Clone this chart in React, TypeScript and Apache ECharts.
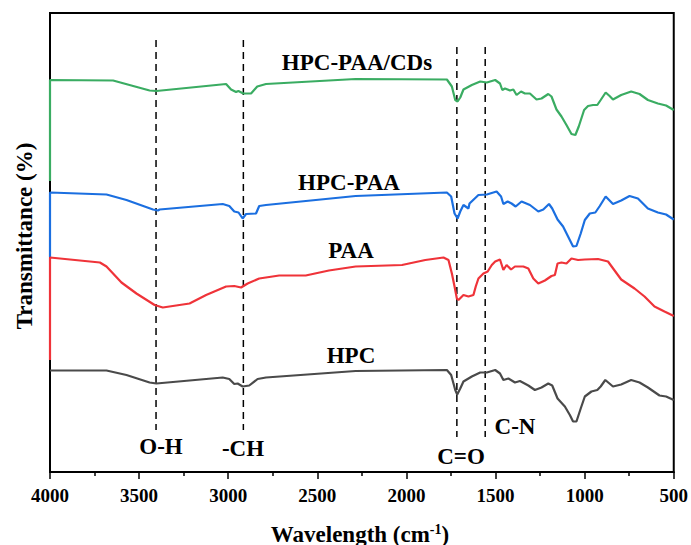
import React, { useEffect, useRef } from "react";
import * as echarts from "echarts";

const xTicks = [4000, 3500, 3000, 2500, 2000, 1500, 1000, 500];

const hpcPaaCds: [number, number][] = [
  [4000, 58.2], [4000, 78.4], [3646, 78.3], [3441, 76.3], [3403, 76.2], [3012, 77.6], [2984, 76.5],
  [2956, 76.0], [2943, 76.2], [2915, 75.7], [2872, 75.7], [2837, 77.1], [2788, 77.6], [2285, 78.6],
  [1773, 78.5], [1745, 77.1], [1726, 74.4], [1713, 74.1], [1698, 74.9], [1680, 76.5], [1633, 77.4],
  [1586, 78.1], [1549, 77.9], [1502, 78.4], [1475, 77.7], [1462, 76.4], [1447, 76.7], [1419, 76.3],
  [1400, 76.5], [1382, 75.4], [1357, 76.1], [1335, 75.7], [1307, 75.7], [1270, 74.5], [1242, 74.7],
  [1204, 75.6], [1186, 75.1], [1158, 72.5], [1130, 71.1], [1102, 69.4], [1074, 67.6], [1052, 67.4],
  [1033, 69.1], [1003, 72.4], [981, 73.2], [953, 73.4], [929, 73.4], [910, 74.4], [882, 75.9],
  [860, 75.2], [841, 74.5], [795, 75.4], [739, 76.1], [692, 75.6], [645, 74.4], [589, 73.7],
  [543, 73.3], [500, 72.4],
];

const hpcPaa: [number, number][] = [
  [4000, 43.0], [4000, 55.9], [3683, 55.5], [3571, 54.4], [3422, 52.5], [3394, 52.3], [3385, 52.5],
  [3031, 53.6], [2994, 53.2], [2966, 52.1], [2942, 51.9], [2919, 50.7], [2900, 51.6], [2844, 51.7],
  [2826, 53.2], [2788, 53.4], [2285, 55.2], [1773, 55.9], [1749, 55.1], [1730, 51.7], [1713, 50.7],
  [1698, 52.1], [1680, 53.4], [1652, 52.7], [1646, 53.7], [1596, 55.4], [1549, 55.5], [1494, 56.1],
  [1469, 55.1], [1456, 53.6], [1432, 54.1], [1410, 53.7], [1387, 53.1], [1354, 54.1], [1307, 53.4],
  [1260, 52.1], [1232, 52.5], [1200, 53.6], [1182, 52.7], [1152, 50.5], [1121, 49.1], [1093, 47.1],
  [1065, 45.1], [1046, 45.2], [1022, 47.7], [999, 50.4], [971, 51.7], [940, 51.9], [915, 53.2],
  [882, 55.1], [841, 53.6], [795, 54.3], [748, 55.2], [701, 54.7], [645, 52.7], [589, 51.9],
  [543, 51.5], [500, 50.5],
];

const paa: [number, number][] = [
  [4000, 22.4], [4000, 42.9], [3720, 41.9], [3683, 41.1], [3599, 37.9], [3515, 35.7], [3413, 33.4],
  [3367, 32.9], [3217, 33.7], [3124, 35.4], [3012, 37.1], [2966, 37.2], [2928, 36.9], [2891, 37.7],
  [2826, 38.7], [2714, 39.3], [2565, 39.3], [2435, 40.3], [2285, 41.1], [2025, 41.4], [1894, 42.4],
  [1792, 42.9], [1764, 42.4], [1745, 39.7], [1730, 37.1], [1717, 34.7], [1708, 34.4], [1680, 35.4],
  [1652, 35.1], [1624, 35.4], [1611, 37.1], [1596, 38.7], [1568, 39.7], [1544, 40.1], [1521, 41.4],
  [1502, 42.1], [1475, 42.5], [1456, 40.4], [1438, 41.4], [1413, 40.5], [1391, 41.1], [1344, 41.1],
  [1316, 40.7], [1288, 38.7], [1260, 37.7], [1223, 38.3], [1186, 39.2], [1167, 39.4], [1152, 41.7],
  [1130, 41.9], [1102, 41.7], [1074, 42.7], [1037, 42.4], [999, 42.5], [925, 42.6], [869, 42.1],
  [795, 38.5], [720, 36.7], [664, 35.1], [608, 33.1], [552, 32.1], [500, 31.2],
];

const hpc: [number, number][] = [
  [4000, 20.3], [3683, 20.3], [3571, 19.4], [3441, 17.9], [3403, 17.7], [3031, 18.9], [2994, 18.6],
  [2966, 17.6], [2947, 17.7], [2919, 17.1], [2882, 17.3], [2835, 18.6], [2788, 18.9], [2285, 20.2],
  [1773, 20.4], [1749, 19.4], [1726, 16.4], [1715, 15.5], [1698, 16.7], [1680, 18.1], [1633, 19.1],
  [1586, 19.9], [1549, 19.9], [1502, 20.4], [1475, 19.7], [1456, 18.4], [1428, 18.7], [1391, 17.9],
  [1363, 18.2], [1316, 17.3], [1279, 16.4], [1242, 16.9], [1204, 17.7], [1182, 17.3], [1152, 14.7],
  [1111, 13.1], [1083, 11.4], [1065, 10.1], [1046, 10.1], [1022, 12.7], [999, 15.1], [962, 16.1],
  [929, 16.4], [910, 17.1], [884, 18.4], [841, 17.1], [795, 17.5], [739, 18.4], [692, 17.9],
  [645, 16.9], [580, 15.3], [543, 15.1], [500, 14.4],
];

const peakNames = ["O-H", "-CH", "C=O", "C-N"];
const peakWavenumbers = [3405, 2915, 1717, 1558];
const peakLineTop = [86.4, 86.4, 85.0, 85.0];
const peakLineBottom = [8.4, 8.4, 7.0, 7.0];

const seriesNames = ["HPC-PAA/CDs", "HPC-PAA", "PAA", "HPC"];
const seriesColors = ["#3aac62", "#1b6fe0", "#ef3339", "#4a4a4a"];

const FONT = "'Liberation Serif', 'Times New Roman', serif";

export default function App() {
  const ref = useRef<HTMLDivElement>(null);
  useEffect(() => {
    if (!ref.current) return;
    const chart = echarts.init(ref.current, undefined, { renderer: "svg" });
    const curves = [hpcPaaCds, hpcPaa, paa, hpc];
    const series: any[] = [];
    peakWavenumbers.forEach((w, i) => {
      series.push({
        type: "line",
        name: peakNames[i],
        data: [
          [w, peakLineTop[i]],
          [w, peakLineBottom[i]],
        ],
        showSymbol: false,
        silent: true,
        z: 1,
        lineStyle: { color: "#000", width: 1.5, type: [7, 5] },
      });
    });
    curves.forEach((d, i) => {
      series.push({
        type: "line",
        name: seriesNames[i],
        data: d,
        showSymbol: false,
        clip: false,
        z: 3,
        lineStyle: { color: seriesColors[i], width: 2.2 },
        itemStyle: { color: seriesColors[i] },
      });
    });
    const labelStyle = (text: string, x: number, y: number) => ({
      type: "text",
      x,
      y,
      style: {
        text,
        font: `bold 23px ${FONT}`,
        fill: "#000",
        align: "center",
        verticalAlign: "middle",
      },
    });
    chart.setOption({
      animation: false,
      grid: {
        left: 50,
        right: 15,
        top: 13,
        bottom: 73,
        show: true,
        borderColor: "#000",
        borderWidth: 2,
      },
      xAxis: {
        type: "value",
        inverse: true,
        min: 500,
        max: 4000,
        interval: 500,
        axisLine: { show: true, lineStyle: { color: "#000", width: 2 } },
        axisTick: { show: true, inside: false, length: 7, lineStyle: { color: "#000", width: 1.5 } },
        minorTick: { show: true, splitNumber: 2, length: 4, lineStyle: { color: "#000", width: 1.5 } },
        splitLine: { show: false },
        axisLabel: {
          color: "#000",
          fontFamily: FONT,
          fontWeight: "bold",
          fontSize: 19,
          margin: 14,
          formatter: (v: number) => (xTicks.includes(v) ? String(v) : ""),
        },
      },
      yAxis: {
        type: "value",
        min: 0,
        max: 91.8,
        axisLine: { show: true, lineStyle: { color: "#000", width: 2 } },
        axisTick: { show: false },
        axisLabel: { show: false },
        splitLine: { show: false },
      },
      series,
      graphic: [
        labelStyle("HPC-PAA/CDs", 357, 62),
        labelStyle("HPC-PAA", 349, 182),
        labelStyle("PAA", 351, 250),
        labelStyle("HPC", 351, 355),
        labelStyle("O-H", 161, 446),
        labelStyle("-CH", 243, 448),
        labelStyle("C=O", 461, 456),
        labelStyle("C-N", 515, 426),
        {
          type: "text",
          x: 24,
          y: 236,
          rotation: Math.PI / 2,
          style: {
            text: "Transmittance (%)",
            font: `bold 23px ${FONT}`,
            fill: "#000",
            align: "center",
            verticalAlign: "middle",
          },
        },
        {
          type: "text",
          x: 360,
          y: 534,
          style: {
            text: "{a|Wavelength (cm}{b|-1}{a|)}",
            fill: "#000",
            align: "center",
            verticalAlign: "middle",
            rich: {
              a: { font: `bold 23px ${FONT}`, fill: "#000", lineHeight: 24, verticalAlign: "bottom" },
              b: { font: `bold 14px ${FONT}`, fill: "#000", lineHeight: 24, verticalAlign: "top" },
            },
          },
        },
      ],
    });
    return () => chart.dispose();
  }, []);
  return (
    <div
      ref={ref}
      style={{ position: "absolute", left: 0, top: 0, width: 691, height: 545 }}
    />
  );
}
